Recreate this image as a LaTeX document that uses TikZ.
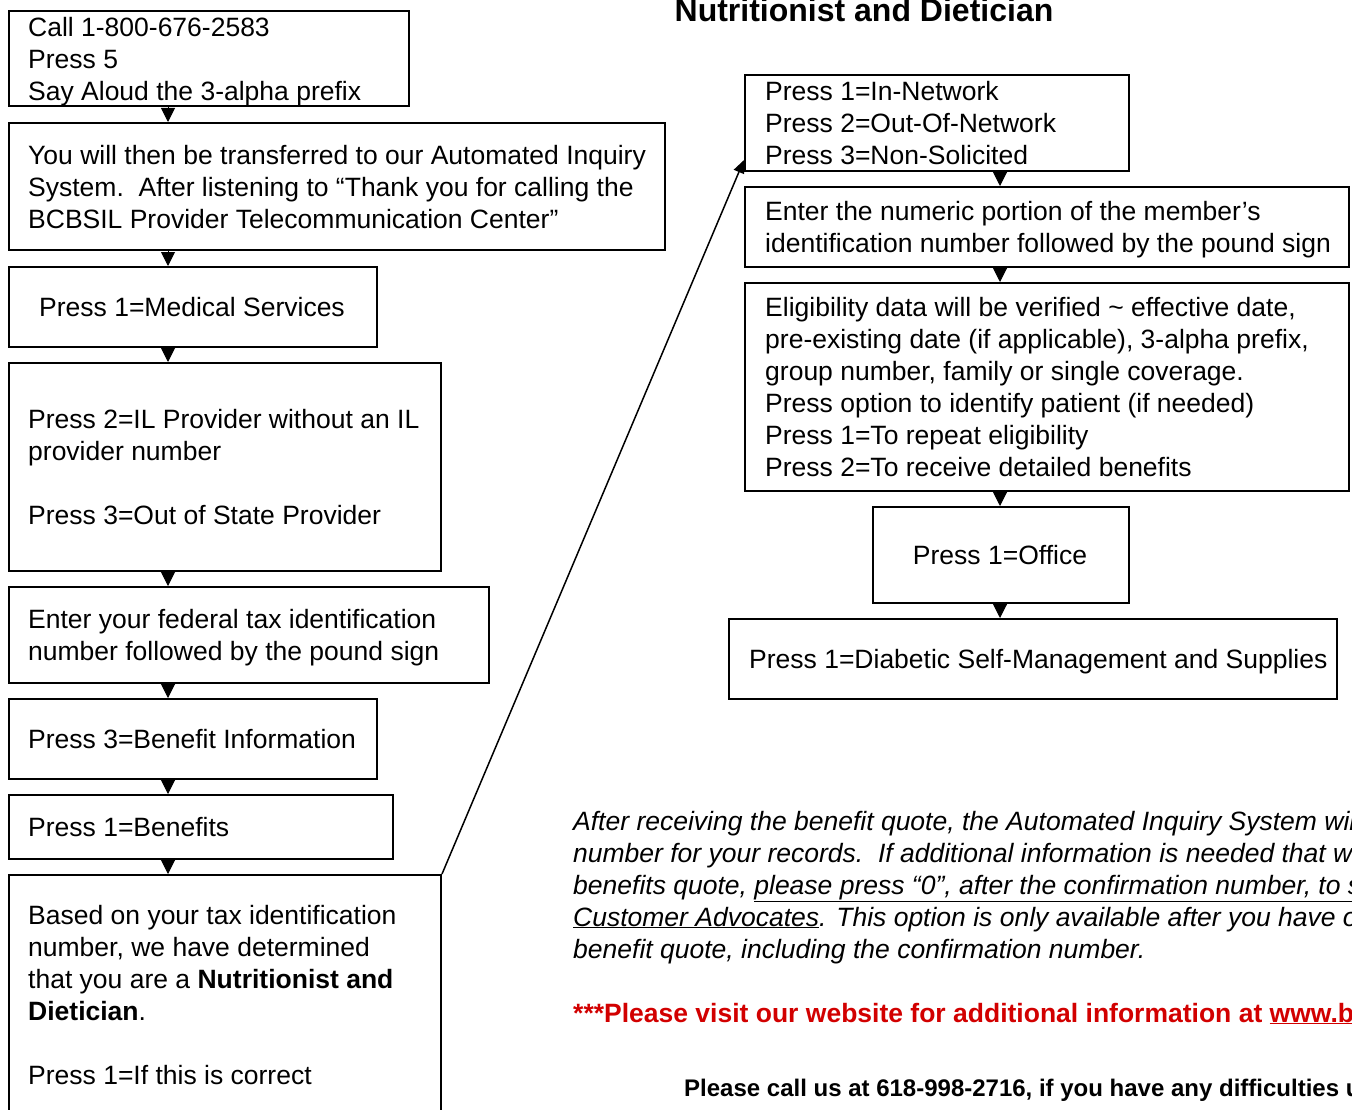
\documentclass[tikz,border=0pt]{standalone}
\usepackage{fontspec}
\setmainfont{Liberation Sans}
\usetikzlibrary{arrows.meta}
\definecolor{webred}{RGB}{210,0,0}
\tikzset{
  box/.style={draw, line width=2pt, inner sep=0pt, anchor=north west},
  txt/.style={anchor=west, align=left, inner sep=0pt, font=\fontsize{26.5}{32}\selectfont},
  ctxt/.style={anchor=center, align=center, inner sep=0pt, font=\fontsize{26.5}{32}\selectfont},
  free/.style={anchor=base west, inner sep=0pt, font=\fontsize{26.5}{32}\selectfont},
  flow/.style={line width=1pt, -{Triangle[length=14pt,width=14pt]}},
  jump/.style={line width=1.5pt, -{Triangle[length=13pt,width=11pt]}}
}
\begin{document}
\begin{tikzpicture}[x=1pt,y=-1pt]
\useasboundingbox (0,0) rectangle (1352,1110);
\fill[white] (0,0) rectangle (1352,1110);
\clip (0,0) rectangle (1352,1110);

% left column boxes
\node[box, minimum width=400pt, minimum height=95pt]  (b1) at (8,10) {};
\node[box, minimum width=656pt, minimum height=127pt] (b2) at (8,122) {};
\node[box, minimum width=368pt, minimum height=80pt]  (b3) at (8,266) {};
\node[box, minimum width=432pt, minimum height=208pt] (b4) at (8,362) {};
\node[box, minimum width=480pt, minimum height=96pt]  (b5) at (8,586) {};
\node[box, minimum width=368pt, minimum height=80pt]  (b6) at (8,698) {};
\node[box, minimum width=384pt, minimum height=64pt]  (b7) at (8,794) {};
\node[box, minimum width=432pt, minimum height=250pt] (b8) at (8,874) {};

\node[txt] (b1t) at (28,62) {Call 1-800-676-2583\\Press 5\\Say Aloud the 3-alpha prefix};
\node[txt] (b2t) at (28,187) {You will then be transferred to our Automated Inquiry\\System.\ \ After listening to “Thank you for calling the\\BCBSIL Provider Telecommunication Center”};
\node[ctxt] (b3t) at (192,307) {Press 1=Medical Services};
\node[txt] (b4t) at (28,467) {Press 2=IL Provider without an IL\\provider number\\[32pt]Press 3=Out of State Provider};
\node[txt] (b5t) at (28,638) {Enter your federal tax identification\\number followed by the pound sign};
\node[txt] (b6t) at (28,739) {Press 3=Benefit Information};
\node[txt] (b7t) at (28,827) {Press 1=Benefits};
\node[txt] (b8t) at (28,995) {Based on your tax identification\\number, we have determined\\that you are a \textbf{Nutritionist and}\\\textbf{Dietician}.\\[32pt]Press 1=If this is correct};

% right column
\node[anchor=base, inner sep=0pt, font=\fontsize{32}{38}\selectfont\bfseries] (title) at (864,22) {Nutritionist and Dietician};

\node[box, minimum width=384pt, minimum height=96pt]  (r1) at (744,74) {};
\node[box, minimum width=604pt, minimum height=80pt]  (r2) at (744,186) {};
\node[box, minimum width=604pt, minimum height=208pt] (r3) at (744,282) {};
\node[box, minimum width=256pt, minimum height=96pt]  (r4) at (872,506) {};
\node[box, minimum width=608pt, minimum height=80pt]  (r5) at (728,618) {};

\node[txt] (r1t) at (765,123) {Press 1=In-Network\\Press 2=Out-Of-Network\\Press 3=Non-Solicited};
\node[txt] (r2t) at (765,230) {Enter the numeric portion of the member’s\\identification number followed by the pound sign};
\node[txt] (r3t) at (765,387) {Eligibility data will be verified \textasciitilde{} effective date,\\pre-existing date (if applicable), 3-alpha prefix,\\group number, family or single coverage.\\Press option to identify patient (if needed)\\Press 1=To repeat eligibility\\Press 2=To receive detailed benefits};
\node[ctxt] (r4t) at (1000,555) {Press 1=Office};
\node[txt] (r5t) at (749,662) {Press 1=Diabetic Self-Management and Supplies};

% connectors
\coordinate (lx) at (168,0);
\coordinate (rx) at (1000,0);
\foreach \a/\b in {b1/b2,b2/b3,b3/b4,b4/b5,b5/b6,b6/b7,b7/b8}
  \draw[flow] (\a.south -| lx) -- (\b.north -| lx);
\foreach \a/\b in {r1/r2,r2/r3,r3/r4,r4/r5}
  \draw[flow] (\a.south -| rx) -- (\b.north -| rx);
\draw[jump] (b8.north east) -- ([yshift=12pt]r1.south west);

% free text
\node[free] (n1) at (573,830) {\itshape After receiving the benefit quote, the Automated Inquiry System will provide a confirmation};
\node[free] (n2) at (573,862) {\itshape number for your records.\ \ If additional information is needed that was not provided in the};
\node[free] (n3) at (573,894) {\itshape benefits quote, \underline{please press “0”, after the confirmation number, to speak with one of our}};
\node[free] (n4) at (573,926) {\itshape \underline{Customer Advocates}. This option is only available after you have obtained the};
\node[free] (n5) at (573,958) {\itshape benefit quote, including the confirmation number.};
\node[free, text=webred, font=\fontsize{26.5}{32}\selectfont\bfseries] (web) at (573,1022) {***Please visit our website for additional information at \underline{www.bcbsil.com}};
\node[free, font=\fontsize{24}{28}\selectfont\bfseries] (call) at (684,1096) {Please call us at 618-998-2716, if you have any difficulties using this system.};
\end{tikzpicture}
\end{document}
